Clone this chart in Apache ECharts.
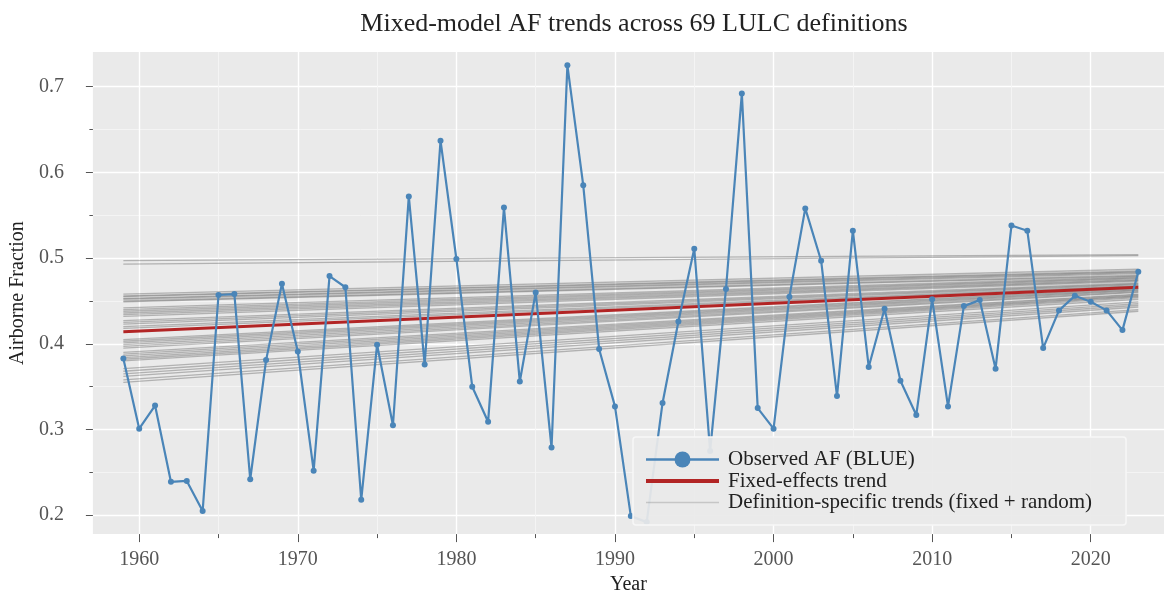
<!DOCTYPE html>
<html>
<head>
<meta charset="utf-8">
<title>Mixed-model AF trends</title>
<script src="https://cdn.jsdelivr.net/npm/echarts@6/dist/echarts.min.js"></script>
<style>
  html, body { margin: 0; padding: 0; background: #fff; }
  #chart { width: 1164px; height: 600px; }
</style>
</head>
<body>
<div id="chart"></div>
<script>
// observed airborne fraction, one value per year
const years = [
  1959, 1960, 1961, 1962, 1963, 1964, 1965, 1966, 1967, 1968,
  1969, 1970, 1971, 1972, 1973, 1974, 1975, 1976, 1977, 1978,
  1979, 1980, 1981, 1982, 1983, 1984, 1985, 1986, 1987, 1988,
  1989, 1990, 1991, 1992, 1993, 1994, 1995, 1996, 1997, 1998,
  1999, 2000, 2001, 2002, 2003, 2004, 2005, 2006, 2007, 2008,
  2009, 2010, 2011, 2012, 2013, 2014, 2015, 2016, 2017, 2018,
  2019, 2020, 2021, 2022, 2023
];
const observedAF = [
  0.383, 0.301, 0.328, 0.239, 0.240, 0.205, 0.457, 0.458, 0.242, 0.381,
  0.470, 0.391, 0.252, 0.479, 0.466, 0.218, 0.399, 0.305, 0.572, 0.376,
  0.637, 0.499, 0.350, 0.309, 0.559, 0.356, 0.460, 0.279, 0.725, 0.585,
  0.394, 0.327, 0.199, 0.192, 0.331, 0.426, 0.511, 0.275, 0.464, 0.692,
  0.325, 0.301, 0.455, 0.558, 0.497, 0.339, 0.532, 0.373, 0.441, 0.357,
  0.317, 0.452, 0.327, 0.444, 0.451, 0.371, 0.538, 0.532, 0.395, 0.439,
  0.456, 0.449, 0.439, 0.416, 0.484
];

// trend lines run from the first to the last year
const trendYears = [1959, 2023];
const fixedTrend = [0.414, 0.466];
// definition-specific trends: value at 1959 and at 2023
const defStart = [
  0.497, 0.493,
  0.458, 0.456, 0.455, 0.453, 0.452, 0.450, 0.449,
  0.442, 0.440, 0.438, 0.436, 0.434, 0.432,
  0.427, 0.425, 0.423, 0.420, 0.418,
  0.405, 0.403, 0.401, 0.399, 0.397, 0.395,
  0.390, 0.388, 0.386, 0.384, 0.382, 0.380,
  0.371, 0.368, 0.365, 0.362,
  0.358, 0.355
];
const defEnd = [
  0.504, 0.503,
  0.487, 0.485, 0.484, 0.483, 0.482, 0.480, 0.479,
  0.478, 0.477, 0.476, 0.475, 0.474, 0.473,
  0.471, 0.470, 0.469, 0.468, 0.467,
  0.465, 0.464, 0.463, 0.462, 0.461, 0.460,
  0.458, 0.457, 0.456, 0.455, 0.454, 0.452,
  0.449, 0.447, 0.445, 0.443,
  0.440, 0.438
];

// ticks and grid lines
const xTicks = [1960, 1970, 1980, 1990, 2000, 2010, 2020];
const xMinorTicks = [1965, 1975, 1985, 1995, 2005, 2015];
const yTicks = [0.2, 0.3, 0.4, 0.5, 0.6, 0.7];
const yMinorTicks = [0.25, 0.35, 0.45, 0.55, 0.65];

const X_MIN = 1957.08, X_MAX = 2024.62;
const Y_MIN = 0.178, Y_MAX = 0.7405;

const FONT = "'Liberation Serif', 'DejaVu Serif', serif";
const OBS_NAME = 'Observed AF (BLUE)';
const FIX_NAME = 'Fixed-effects trend';
const DEF_NAME = 'Definition-specific trends (fixed + random)';
const GRAY = 'rgba(55,55,55,0.32)';

const chart = echarts.init(document.getElementById('chart'));

const gridLines = [];
yTicks.forEach(v => gridLines.push({ yAxis: v, lineStyle: { color: '#ffffff', width: 1.4, type: 'solid' } }));
yMinorTicks.forEach(v => gridLines.push({ yAxis: v, lineStyle: { color: '#f5f5f5', width: 0.9, type: 'solid' } }));
xTicks.forEach(v => gridLines.push({ xAxis: v, lineStyle: { color: '#ffffff', width: 1.4, type: 'solid' } }));
xMinorTicks.forEach(v => gridLines.push({ xAxis: v, lineStyle: { color: '#f5f5f5', width: 0.9, type: 'solid' } }));

const series = [
  {
    // background grid drawn as mark lines under everything
    type: 'line',
    data: [],
    z: 0,
    silent: true,
    markLine: {
      z: 0,
      silent: true,
      symbol: ['none', 'none'],
      label: { show: false },
      emphasis: { disabled: true },
      lineStyle: { type: 'solid' },
      animation: false,
      data: gridLines
    }
  }
];

defStart.forEach((s, i) => {
  series.push({
    name: DEF_NAME,
    type: 'line',
    z: 2,
    symbol: 'none',
    silent: true,
    lineStyle: { color: GRAY, width: 1.3 },
    itemStyle: { color: GRAY },
    data: [[trendYears[0], s], [trendYears[1], defEnd[i]]]
  });
});

series.push({
  name: FIX_NAME,
  type: 'line',
  z: 3,
  symbol: 'none',
  lineStyle: { color: '#b22525', width: 3 },
  itemStyle: { color: '#b22525' },
  data: [[trendYears[0], fixedTrend[0]], [trendYears[1], fixedTrend[1]]]
});

series.push({
  name: OBS_NAME,
  type: 'line',
  z: 3,
  symbol: 'circle',
  symbolSize: 6,
  lineStyle: { color: '#4a85b8', width: 2.2 },
  itemStyle: { color: '#4a85b8' },
  data: years.map((y, i) => [y, observedAF[i]])
});

const axisText = { color: '#555555', fontSize: 20, fontFamily: FONT };

const option = {
  animation: false,
  backgroundColor: '#ffffff',
  title: {
    text: 'Mixed-model AF trends across 69 LULC definitions',
    left: 629,
    textAlign: 'center',
    top: 6,
    textStyle: { fontFamily: FONT, fontSize: 26, fontWeight: 'normal', color: '#222222' }
  },
  grid: {
    left: 92,
    right: 0,
    top: 52,
    bottom: 62,
    show: true,
    backgroundColor: '#eaeaea',
    borderWidth: 0
  },
  xAxis: [
    {
      type: 'value',
      min: X_MIN,
      max: X_MAX,
      position: 'bottom',
      name: 'Year',
      nameLocation: 'middle',
      nameGap: 40,
      nameTextStyle: { fontFamily: FONT, fontSize: 20, color: '#222222' },
      axisLine: { show: false, onZero: false },
      axisTick: { show: true, length: 8, lineStyle: { color: '#555555' }, customValues: xTicks },
      axisLabel: Object.assign({ margin: 16, customValues: xTicks, formatter: v => String(v) }, axisText),
      splitLine: { show: false }
    },
    {
      type: 'value',
      min: X_MIN,
      max: X_MAX,
      position: 'bottom',
      axisLine: { show: false, onZero: false },
      axisTick: { show: true, length: 4, lineStyle: { color: '#555555' }, customValues: xMinorTicks },
      axisLabel: { show: false },
      splitLine: { show: false }
    }
  ],
  yAxis: [
    {
      type: 'value',
      min: Y_MIN,
      max: Y_MAX,
      position: 'left',
      name: 'Airborne Fraction',
      nameLocation: 'middle',
      nameGap: 61,
      nameTextStyle: { fontFamily: FONT, fontSize: 20, color: '#222222' },
      axisLine: { show: false, onZero: false },
      axisTick: { show: true, length: 7, lineStyle: { color: '#555555' }, customValues: yTicks },
      axisLabel: Object.assign({ margin: 29, customValues: yTicks, formatter: v => v.toFixed(1) }, axisText),
      splitLine: { show: false }
    },
    {
      type: 'value',
      min: Y_MIN,
      max: Y_MAX,
      position: 'left',
      axisLine: { show: false, onZero: false },
      axisTick: { show: true, length: 3.5, lineStyle: { color: '#555555' }, customValues: yMinorTicks },
      axisLabel: { show: false },
      splitLine: { show: false }
    }
  ],
  legend: {
    z: 10,
    left: 633,
    top: 437,
    orient: 'vertical',
    padding: [12, 34, 12, 11],
    itemGap: 0.5,
    itemWidth: 73,
    itemHeight: 20,
    backgroundColor: 'rgba(234,234,234,0.93)',
    borderColor: '#f7f7f7',
    borderWidth: 1.5,
    borderRadius: 3,
    selectedMode: false,
    textStyle: { fontFamily: FONT, fontSize: 21, lineHeight: 20, color: '#222222', padding: [0, 0, 0, 4] },
    data: [
      { name: OBS_NAME, lineStyle: { width: 2.6 } },
      { name: FIX_NAME, lineStyle: { width: 4 }, itemStyle: { opacity: 0 } },
      { name: DEF_NAME, lineStyle: { width: 1.5, color: 'rgba(55,55,55,0.2)' }, itemStyle: { opacity: 0 } }
    ]
  },
  series: series
};

chart.setOption(option);
</script>
</body>
</html>
